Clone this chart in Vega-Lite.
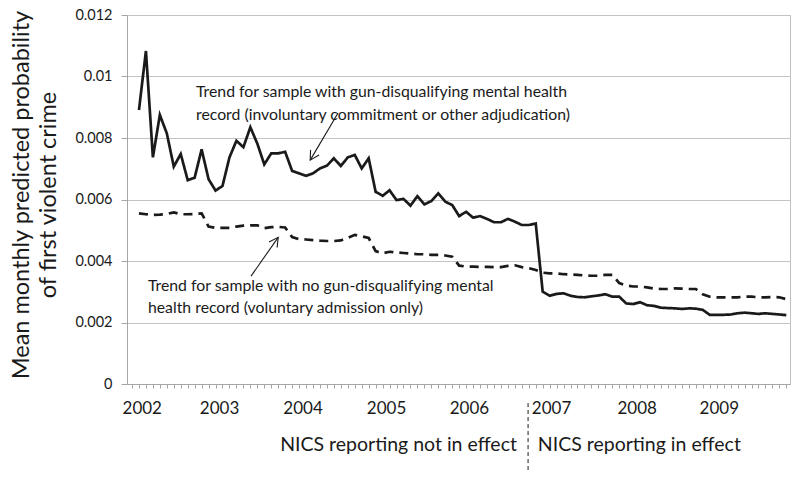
{
  "$schema": "https://vega.github.io/schema/vega-lite/v6.json",
  "width": 663,
  "height": 369,
  "autosize": "none",
  "padding": {"left": 127, "top": 15, "right": 10, "bottom": 95},
  "background": "white",
  "config": {"view": {"stroke": "#bfbfbf", "strokeWidth": 1}, "font": "Lato"},
  "datasets": {
    "series": [
      {"i":0,"s":"a","v":0.00891},{"i":1,"s":"a","v":0.01083},{"i":2,"s":"a","v":0.00737},{"i":3,"s":"a","v":0.00875},{"i":4,"s":"a","v":0.00815},{"i":5,"s":"a","v":0.00707},{"i":6,"s":"a","v":0.00748},{"i":7,"s":"a","v":0.00663},{"i":8,"s":"a","v":0.00671},{"i":9,"s":"a","v":0.00763},
      {"i":10,"s":"a","v":0.00666},{"i":11,"s":"a","v":0.00629},{"i":12,"s":"a","v":0.00644},{"i":13,"s":"a","v":0.00737},{"i":14,"s":"a","v":0.00791},{"i":15,"s":"a","v":0.00770},{"i":16,"s":"a","v":0.00835},{"i":17,"s":"a","v":0.00782},{"i":18,"s":"a","v":0.00714},{"i":19,"s":"a","v":0.00750},
      {"i":20,"s":"a","v":0.00750},{"i":21,"s":"a","v":0.00755},{"i":22,"s":"a","v":0.00693},{"i":23,"s":"a","v":0.00685},{"i":24,"s":"a","v":0.00677},{"i":25,"s":"a","v":0.00685},{"i":26,"s":"a","v":0.00701},{"i":27,"s":"a","v":0.00710},{"i":28,"s":"a","v":0.00734},{"i":29,"s":"a","v":0.00709},
      {"i":30,"s":"a","v":0.00737},{"i":31,"s":"a","v":0.00745},{"i":32,"s":"a","v":0.00701},{"i":33,"s":"a","v":0.00734},{"i":34,"s":"a","v":0.00625},{"i":35,"s":"a","v":0.00612},{"i":36,"s":"a","v":0.00630},{"i":37,"s":"a","v":0.00598},{"i":38,"s":"a","v":0.00602},{"i":39,"s":"a","v":0.00580},
      {"i":40,"s":"a","v":0.00611},{"i":41,"s":"a","v":0.00584},{"i":42,"s":"a","v":0.00595},{"i":43,"s":"a","v":0.00620},{"i":44,"s":"a","v":0.00593},{"i":45,"s":"a","v":0.00582},{"i":46,"s":"a","v":0.00546},{"i":47,"s":"a","v":0.00560},{"i":48,"s":"a","v":0.00541},{"i":49,"s":"a","v":0.00546},
      {"i":50,"s":"a","v":0.00537},{"i":51,"s":"a","v":0.00526},{"i":52,"s":"a","v":0.00526},{"i":53,"s":"a","v":0.00537},{"i":54,"s":"a","v":0.00528},{"i":55,"s":"a","v":0.00517},{"i":56,"s":"a","v":0.00517},{"i":57,"s":"a","v":0.00522},{"i":58,"s":"a","v":0.00300},{"i":59,"s":"a","v":0.00287},
      {"i":60,"s":"a","v":0.00293},{"i":61,"s":"a","v":0.00295},{"i":62,"s":"a","v":0.00287},{"i":63,"s":"a","v":0.00283},{"i":64,"s":"a","v":0.00282},{"i":65,"s":"a","v":0.00285},{"i":66,"s":"a","v":0.00288},{"i":67,"s":"a","v":0.00292},{"i":68,"s":"a","v":0.00284},{"i":69,"s":"a","v":0.00284},
      {"i":70,"s":"a","v":0.00262},{"i":71,"s":"a","v":0.00260},{"i":72,"s":"a","v":0.00266},{"i":73,"s":"a","v":0.00256},{"i":74,"s":"a","v":0.00254},{"i":75,"s":"a","v":0.00248},{"i":76,"s":"a","v":0.00247},{"i":77,"s":"a","v":0.00246},{"i":78,"s":"a","v":0.00244},{"i":79,"s":"a","v":0.00246},
      {"i":80,"s":"a","v":0.00245},{"i":81,"s":"a","v":0.00241},{"i":82,"s":"a","v":0.00225},{"i":83,"s":"a","v":0.00225},{"i":84,"s":"a","v":0.00225},{"i":85,"s":"a","v":0.00226},{"i":86,"s":"a","v":0.00230},{"i":87,"s":"a","v":0.00232},{"i":88,"s":"a","v":0.00230},{"i":89,"s":"a","v":0.00228},
      {"i":90,"s":"a","v":0.00230},{"i":91,"s":"a","v":0.00228},{"i":92,"s":"a","v":0.00226},{"i":93,"s":"a","v":0.00224},
      {"i":0,"s":"b","v":0.00555},{"i":1,"s":"b","v":0.00552},{"i":2,"s":"b","v":0.00550},{"i":3,"s":"b","v":0.00551},{"i":4,"s":"b","v":0.00553},{"i":5,"s":"b","v":0.00558},{"i":6,"s":"b","v":0.00552},{"i":7,"s":"b","v":0.00552},{"i":8,"s":"b","v":0.00553},{"i":9,"s":"b","v":0.00555},
      {"i":10,"s":"b","v":0.00512},{"i":11,"s":"b","v":0.00508},{"i":12,"s":"b","v":0.00508},{"i":13,"s":"b","v":0.00508},{"i":14,"s":"b","v":0.00512},{"i":15,"s":"b","v":0.00515},{"i":16,"s":"b","v":0.00516},{"i":17,"s":"b","v":0.00516},{"i":18,"s":"b","v":0.00507},{"i":19,"s":"b","v":0.00510},
      {"i":20,"s":"b","v":0.00511},{"i":21,"s":"b","v":0.00509},{"i":22,"s":"b","v":0.00478},{"i":23,"s":"b","v":0.00471},{"i":24,"s":"b","v":0.00470},{"i":25,"s":"b","v":0.00468},{"i":26,"s":"b","v":0.00466},{"i":27,"s":"b","v":0.00465},{"i":28,"s":"b","v":0.00465},{"i":29,"s":"b","v":0.00467},
      {"i":30,"s":"b","v":0.00475},{"i":31,"s":"b","v":0.00485},{"i":32,"s":"b","v":0.00480},{"i":33,"s":"b","v":0.00475},{"i":34,"s":"b","v":0.00432},{"i":35,"s":"b","v":0.00425},{"i":36,"s":"b","v":0.00430},{"i":37,"s":"b","v":0.00428},{"i":38,"s":"b","v":0.00426},{"i":39,"s":"b","v":0.00424},
      {"i":40,"s":"b","v":0.00422},{"i":41,"s":"b","v":0.00422},{"i":42,"s":"b","v":0.00420},{"i":43,"s":"b","v":0.00420},{"i":44,"s":"b","v":0.00418},{"i":45,"s":"b","v":0.00414},{"i":46,"s":"b","v":0.00385},{"i":47,"s":"b","v":0.00382},{"i":48,"s":"b","v":0.00382},{"i":49,"s":"b","v":0.00381},
      {"i":50,"s":"b","v":0.00381},{"i":51,"s":"b","v":0.00380},{"i":52,"s":"b","v":0.00380},{"i":53,"s":"b","v":0.00384},{"i":54,"s":"b","v":0.00386},{"i":55,"s":"b","v":0.00380},{"i":56,"s":"b","v":0.00377},{"i":57,"s":"b","v":0.00371},{"i":58,"s":"b","v":0.00362},{"i":59,"s":"b","v":0.00360},
      {"i":60,"s":"b","v":0.00360},{"i":61,"s":"b","v":0.00357},{"i":62,"s":"b","v":0.00356},{"i":63,"s":"b","v":0.00355},{"i":64,"s":"b","v":0.00353},{"i":65,"s":"b","v":0.00352},{"i":66,"s":"b","v":0.00352},{"i":67,"s":"b","v":0.00355},{"i":68,"s":"b","v":0.00355},{"i":69,"s":"b","v":0.00328},
      {"i":70,"s":"b","v":0.00320},{"i":71,"s":"b","v":0.00317},{"i":72,"s":"b","v":0.00317},{"i":73,"s":"b","v":0.00314},{"i":74,"s":"b","v":0.00310},{"i":75,"s":"b","v":0.00309},{"i":76,"s":"b","v":0.00309},{"i":77,"s":"b","v":0.00311},{"i":78,"s":"b","v":0.00310},{"i":79,"s":"b","v":0.00309},
      {"i":80,"s":"b","v":0.00309},{"i":81,"s":"b","v":0.00292},{"i":82,"s":"b","v":0.00284},{"i":83,"s":"b","v":0.00282},{"i":84,"s":"b","v":0.00282},{"i":85,"s":"b","v":0.00282},{"i":86,"s":"b","v":0.00282},{"i":87,"s":"b","v":0.00284},{"i":88,"s":"b","v":0.00284},{"i":89,"s":"b","v":0.00282},
      {"i":90,"s":"b","v":0.00282},{"i":91,"s":"b","v":0.00283},{"i":92,"s":"b","v":0.00282},{"i":93,"s":"b","v":0.00276}
    ],
    "arrows": [
      {"x1": 28.6, "y1": 0.00881, "x2": 24.6, "y2": 0.00728, "ang": 120.8},
      {"x1": 16.1, "y1": 0.00351, "x2": 20.0, "y2": 0.00477, "ang": -55.3}
    ],
    "notes": [
      {"x": 8.19, "y": 0.00948, "t": "Trend for sample with gun-disqualifying mental health"},
      {"x": 8.19, "y": 0.00876, "t": "record (involuntary commitment or other adjudication)"},
      {"x": 1.29, "y": 0.00320, "t": "Trend for sample with no gun-disqualifying mental"},
      {"x": 1.29, "y": 0.00248, "t": "health record (voluntary admission only)"}
    ],
    "periodBefore": [
      {"x": 54.3, "y": -0.00198, "t": "NICS reporting not in effect"}
    ],
    "periodAfter": [
      {"x": 57.3, "y": -0.00198, "t": "NICS reporting in effect"}
    ],
    "divider": [
      {"x": 55.9, "y1": -0.00062, "y2": -0.0028}
    ]
  },
  "resolve": {"axis": {"x": "independent"}, "scale": {"x": "shared"}},
  "layer": [
    {
      "data": {"name": "series"},
      "mark": {"type": "line", "color": "#1a1a1a", "strokeWidth": 2.7, "strokeJoin": "miter", "strokeCap": "butt"},
      "encoding": {
        "x": {
          "field": "i", "type": "quantitative",
          "scale": {"domain": [-1.72, 93.53], "nice": false, "zero": false},
          "axis": {
            "orient": "bottom",
            "title": null,
            "values": [-1,0,1,2,3,4,5,6,7,8,9,10,11,12,13,14,15,16,17,18,19,20,21,22,23,24,25,26,27,28,29,30,31,32,33,34,35,36,37,38,39,40,41,42,43,44,45,46,47,48,49,50,51,52,53,54,55,56,57,58,59,60,61,62,63,64,65,66,67,68,69,70,71,72,73,74,75,76,77,78,79,80,81,82,83,84,85,86,87,88,89,90,91,92,93],
            "labels": false,
            "tickSize": 4,
            "tickColor": "#a6a6a6",
            "domainColor": "#a6a6a6",
            "grid": false
          }
        },
        "y": {
          "field": "v", "type": "quantitative",
          "scale": {"domain": [0, 0.012], "nice": false},
          "axis": {
            "values": [0, 0.002, 0.004, 0.006, 0.008, 0.01, 0.012],
            "format": ".3~f",
            "labelFontSize": 14.5,
            "labelColor": "#1a1a1a",
            "labelPadding": 9,
            "tickSize": 6,
            "tickColor": "#a6a6a6",
            "domainColor": "#a6a6a6",
            "gridColor": "#c4c4c4",
            "title": ["Mean monthly predicted probability", "of first violent crime"],
            "titleFontSize": 23.5,
            "titleFontWeight": "normal",
            "titleColor": "#1a1a1a",
            "titleLineHeight": 27,
            "titleX": -118,
            "titleY": 179.5,
            "titleAngle": -90,
            "titleAlign": "center",
            "titleBaseline": "top"
          }
        },
        "strokeDash": {
          "field": "s", "type": "nominal",
          "scale": {"domain": ["a", "b"], "range": [[1, 0], [9, 6]]},
          "legend": null
        }
      }
    },
    {
      "data": {"name": "arrows"},
      "mark": {"type": "rule", "color": "#1a1a1a", "strokeWidth": 1.1},
      "encoding": {
        "x": {
          "field": "x1", "type": "quantitative",
          "axis": {
            "orient": "bottom",
            "title": null,
            "values": [0.4, 11.5, 23.5, 35.5, 47.4, 59.2, 71.5, 83.3],
            "labelExpr": "'' + (2002 + round(datum.value / 12))",
            "labelOverlap": false,
            "labelFlush": false,
            "labelFontSize": 17,
            "labelColor": "#1a1a1a",
            "labelPadding": 16,
            "ticks": false,
            "domain": false,
            "grid": false
          }
        },
        "y": {"field": "y1", "type": "quantitative"},
        "x2": {"field": "x2"},
        "y2": {"field": "y2"}
      }
    },
    {
      "data": {"name": "arrows"},
      "mark": {"type": "point", "shape": "M -1 -0.55 L 0 0 L -1 0.55", "filled": false, "stroke": "#1a1a1a", "strokeWidth": 1.1, "size": 324, "opacity": 1},
      "encoding": {
        "x": {"field": "x2", "type": "quantitative", "axis": null},
        "y": {"field": "y2", "type": "quantitative"},
        "angle": {"field": "ang", "type": "quantitative", "scale": null}
      }
    },
    {
      "data": {"name": "notes"},
      "mark": {"type": "text", "align": "left", "baseline": "middle", "fontSize": 15.8, "color": "#1a1a1a"},
      "encoding": {
        "x": {"field": "x", "type": "quantitative", "axis": null},
        "y": {"field": "y", "type": "quantitative"},
        "text": {"field": "t"}
      }
    },
    {
      "data": {"name": "periodBefore"},
      "mark": {"type": "text", "align": "right", "baseline": "middle", "fontSize": 19.5, "color": "#1a1a1a"},
      "encoding": {
        "x": {"field": "x", "type": "quantitative", "axis": null},
        "y": {"field": "y", "type": "quantitative"},
        "text": {"field": "t"}
      }
    },
    {
      "data": {"name": "periodAfter"},
      "mark": {"type": "text", "align": "left", "baseline": "middle", "fontSize": 19.5, "color": "#1a1a1a"},
      "encoding": {
        "x": {"field": "x", "type": "quantitative", "axis": null},
        "y": {"field": "y", "type": "quantitative"},
        "text": {"field": "t"}
      }
    },
    {
      "data": {"name": "divider"},
      "mark": {"type": "rule", "color": "#1a1a1a", "strokeWidth": 1, "strokeDash": [4, 3]},
      "encoding": {
        "x": {"field": "x", "type": "quantitative", "axis": null},
        "y": {"field": "y1", "type": "quantitative"},
        "y2": {"field": "y2"}
      }
    }
  ]
}
